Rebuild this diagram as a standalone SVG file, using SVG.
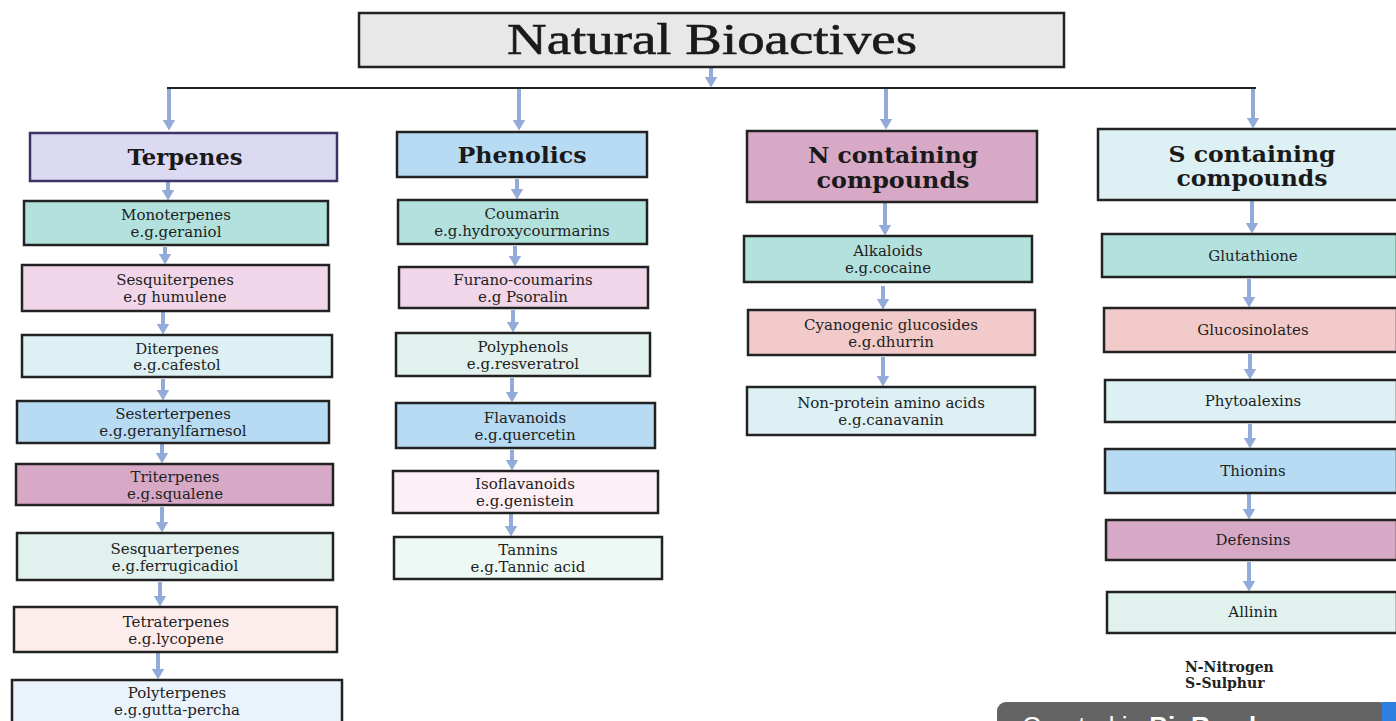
<svg xmlns="http://www.w3.org/2000/svg" width="1396" height="721" viewBox="0 0 1396 721">
<defs>
<marker id="ah" viewBox="0 0 11 13" refX="5.5" refY="6.5" markerWidth="11" markerHeight="13" markerUnits="userSpaceOnUse" orient="auto">
<path d="M0,0 L11,6.5 L0,13 z" fill="#93abd9"/>
</marker>
<style>
.box{stroke:#222;stroke-width:2.5}
.t{font-family:"DejaVu Serif","Liberation Serif",serif;font-size:15px;fill:#222;text-anchor:middle}
.h{font-family:"DejaVu Serif","Liberation Serif",serif;font-size:22px;font-weight:bold;fill:#1a1a1a;text-anchor:middle}
.ttl{font-family:"Liberation Serif","Times New Roman",serif;font-size:44px;fill:#1a1a1a;text-anchor:middle;stroke:#1a1a1a;stroke-width:0.6}
.a{stroke:#93abd9;stroke-width:4;fill:none;marker-end:url(#ah)}
.lg{font-family:"DejaVu Serif","Liberation Serif",serif;font-size:14px;font-weight:bold;fill:#222}
.teal{fill:#b3e1dd}.pink{fill:#f0d6e8}.cyan{fill:#ddf0f4}.blue{fill:#b7dbf3}.mauve{fill:#d8a9c6}.mint{fill:#e0f1ee}.blush{fill:#fdecec}.pale{fill:#eaf3fb}.salmon{fill:#f2caca}.rose{fill:#fdeff6}.tan{fill:#eef8f5}
</style>
</defs>
<rect width="1396" height="721" fill="#ffffff"/>

<g id="connectors">
<line x1="167" y1="88" x2="1256" y2="88" stroke="#222" stroke-width="2"/>
<line class="a" x1="711" y1="68" x2="711" y2="82"/>
<line class="a" x1="169" y1="89" x2="169" y2="125"/>
<line class="a" x1="519" y1="89" x2="519" y2="125"/>
<line class="a" x1="886" y1="89" x2="886" y2="124"/>
<line class="a" x1="1253" y1="89" x2="1253" y2="123"/>
<line class="a" x1="168" y1="182" x2="168" y2="195"/>
<line class="a" x1="165" y1="247" x2="165" y2="259"/>
<line class="a" x1="163" y1="312" x2="163" y2="329"/>
<line class="a" x1="163" y1="379" x2="163" y2="395"/>
<line class="a" x1="162" y1="444" x2="162" y2="458"/>
<line class="a" x1="162" y1="507" x2="162" y2="527"/>
<line class="a" x1="160" y1="582" x2="160" y2="601"/>
<line class="a" x1="158" y1="653" x2="158" y2="674"/>
<line class="a" x1="517" y1="179" x2="517" y2="194"/>
<line class="a" x1="515" y1="246" x2="515" y2="261"/>
<line class="a" x1="513" y1="310" x2="513" y2="327"/>
<line class="a" x1="512" y1="378" x2="512" y2="397"/>
<line class="a" x1="512" y1="450" x2="512" y2="465"/>
<line class="a" x1="511" y1="505" x2="511" y2="531"/>
<line class="a" x1="885" y1="203" x2="885" y2="230"/>
<line class="a" x1="883" y1="286" x2="883" y2="304"/>
<line class="a" x1="883" y1="357" x2="883" y2="381"/>
<line class="a" x1="1252" y1="201" x2="1252" y2="228"/>
<line class="a" x1="1249" y1="279" x2="1249" y2="302"/>
<line class="a" x1="1250" y1="354" x2="1250" y2="374"/>
<line class="a" x1="1250" y1="424" x2="1250" y2="443"/>
<line class="a" x1="1249" y1="494" x2="1249" y2="514"/>
<line class="a" x1="1249" y1="562" x2="1249" y2="586"/>
</g>

<g id="title">
<rect x="359" y="13" width="705" height="54" fill="#e8e8e8" stroke="#222" stroke-width="2.5"/>
<text class="ttl" x="712" y="54" textLength="410" lengthAdjust="spacingAndGlyphs">Natural Bioactives</text>
</g>

<g id="terpenes">
<rect x="30" y="133" width="307" height="48" fill="#dcd9f2" stroke="#3c3464" stroke-width="2.5"/>
<text class="h" x="185" y="165" textLength="115" lengthAdjust="spacingAndGlyphs">Terpenes</text>
</g>
<g id="monoterpenes"><rect class="box teal" x="24" y="201" width="304" height="44"/>
<text class="t" x="176" y="220">Monoterpenes</text><text class="t" x="176" y="237">e.g.geraniol</text></g>
<g id="sesquiterpenes"><rect class="box pink" x="22" y="265" width="307" height="46"/>
<text class="t" x="175" y="285">Sesquiterpenes</text><text class="t" x="175" y="302">e.g humulene</text></g>
<g id="diterpenes"><rect class="box cyan" x="22" y="335" width="310" height="42"/>
<text class="t" x="177" y="354">Diterpenes</text><text class="t" x="177" y="370">e.g.cafestol</text></g>
<g id="sesterterpenes"><rect class="box blue" x="17" y="401" width="312" height="42"/>
<text class="t" x="173" y="419">Sesterterpenes</text><text class="t" x="173" y="436">e.g.geranylfarnesol</text></g>
<g id="triterpenes"><rect class="box mauve" x="16" y="464" width="317" height="41"/>
<text class="t" x="175" y="482">Triterpenes</text><text class="t" x="175" y="499">e.g.squalene</text></g>
<g id="sesquarterpenes"><rect class="box mint" x="17" y="533" width="316" height="47"/>
<text class="t" x="175" y="554">Sesquarterpenes</text><text class="t" x="175" y="571">e.g.ferrugicadiol</text></g>
<g id="tetraterpenes"><rect class="box blush" x="14" y="607" width="323" height="45"/>
<text class="t" x="176" y="627">Tetraterpenes</text><text class="t" x="176" y="644">e.g.lycopene</text></g>
<g id="polyterpenes"><rect class="box pale" x="12" y="680" width="330" height="50"/>
<text class="t" x="177" y="698">Polyterpenes</text><text class="t" x="177" y="715">e.g.gutta-percha</text></g>

<g id="phenolics">
<rect class="box blue" x="397" y="132" width="250" height="45"/>
<text class="h" x="522" y="163" textLength="129" lengthAdjust="spacingAndGlyphs">Phenolics</text>
</g>
<g id="coumarin"><rect class="box teal" x="398" y="200" width="249" height="44"/>
<text class="t" x="522" y="219">Coumarin</text><text class="t" x="522" y="236">e.g.hydroxycourmarins</text></g>
<g id="furano"><rect class="box pink" x="399" y="267" width="249" height="41"/>
<text class="t" x="523" y="285">Furano-coumarins</text><text class="t" x="523" y="302">e.g Psoralin</text></g>
<g id="polyphenols"><rect class="box mint" x="396" y="333" width="254" height="43"/>
<text class="t" x="523" y="352">Polyphenols</text><text class="t" x="523" y="369">e.g.resveratrol</text></g>
<g id="flavanoids"><rect class="box blue" x="396" y="403" width="259" height="45"/>
<text class="t" x="525" y="423">Flavanoids</text><text class="t" x="525" y="440">e.g.quercetin</text></g>
<g id="isoflavanoids"><rect class="box rose" x="393" y="471" width="265" height="42"/>
<text class="t" x="525" y="489">Isoflavanoids</text><text class="t" x="525" y="506">e.g.genistein</text></g>
<g id="tannins"><rect class="box tan" x="394" y="537" width="268" height="42"/>
<text class="t" x="528" y="555">Tannins</text><text class="t" x="528" y="572">e.g.Tannic acid</text></g>

<g id="n-containing">
<rect class="box mauve" x="747" y="131" width="290" height="71"/>
<text class="h" x="893" y="163" textLength="170" lengthAdjust="spacingAndGlyphs">N containing</text>
<text class="h" x="893" y="188" textLength="153" lengthAdjust="spacingAndGlyphs">compounds</text>
</g>
<g id="alkaloids"><rect class="box teal" x="744" y="236" width="288" height="46"/>
<text class="t" x="888" y="256">Alkaloids</text><text class="t" x="888" y="273">e.g.cocaine</text></g>
<g id="cyanogenic"><rect class="box salmon" x="748" y="310" width="287" height="45"/>
<text class="t" x="891" y="330">Cyanogenic glucosides</text><text class="t" x="891" y="347">e.g.dhurrin</text></g>
<g id="nonprotein"><rect class="box cyan" x="747" y="387" width="288" height="48"/>
<text class="t" x="891" y="408">Non-protein amino acids</text><text class="t" x="891" y="425">e.g.canavanin</text></g>

<g id="s-containing">
<rect class="box cyan" x="1098" y="129" width="300" height="71"/>
<text class="h" x="1252" y="162" textLength="167" lengthAdjust="spacingAndGlyphs">S containing</text>
<text class="h" x="1252" y="186" textLength="151" lengthAdjust="spacingAndGlyphs">compounds</text>
</g>
<g id="glutathione"><rect class="box teal" x="1102" y="234" width="295" height="43"/>
<text class="t" x="1253" y="261">Glutathione</text></g>
<g id="glucosinolates"><rect class="box salmon" x="1104" y="308" width="293" height="44"/>
<text class="t" x="1253" y="335">Glucosinolates</text></g>
<g id="phytoalexins"><rect class="box cyan" x="1105" y="380" width="292" height="42"/>
<text class="t" x="1253" y="406">Phytoalexins</text></g>
<g id="thionins"><rect class="box blue" x="1105" y="449" width="292" height="44"/>
<text class="t" x="1253" y="476">Thionins</text></g>
<g id="defensins"><rect class="box mauve" x="1106" y="520" width="291" height="40"/>
<text class="t" x="1253" y="545">Defensins</text></g>
<g id="allinin"><rect class="box mint" x="1107" y="592" width="290" height="41"/>
<text class="t" x="1253" y="617">Allinin</text></g>

<g id="legend">
<text class="lg" x="1185" y="672">N-Nitrogen</text>
<text class="lg" x="1185" y="688">S-Sulphur</text>
</g>

<g id="badge">
<rect x="997" y="702" width="392" height="40" rx="9" fill="#646464"/>
<rect x="1382" y="702" width="20" height="40" fill="#2f7fe0"/>
<text x="1022" y="735" font-family="'Liberation Sans',Arial,sans-serif" font-size="26" fill="#ffffff">Created in <tspan font-weight="bold">BioRender.com</tspan></text>
</g>
</svg>
